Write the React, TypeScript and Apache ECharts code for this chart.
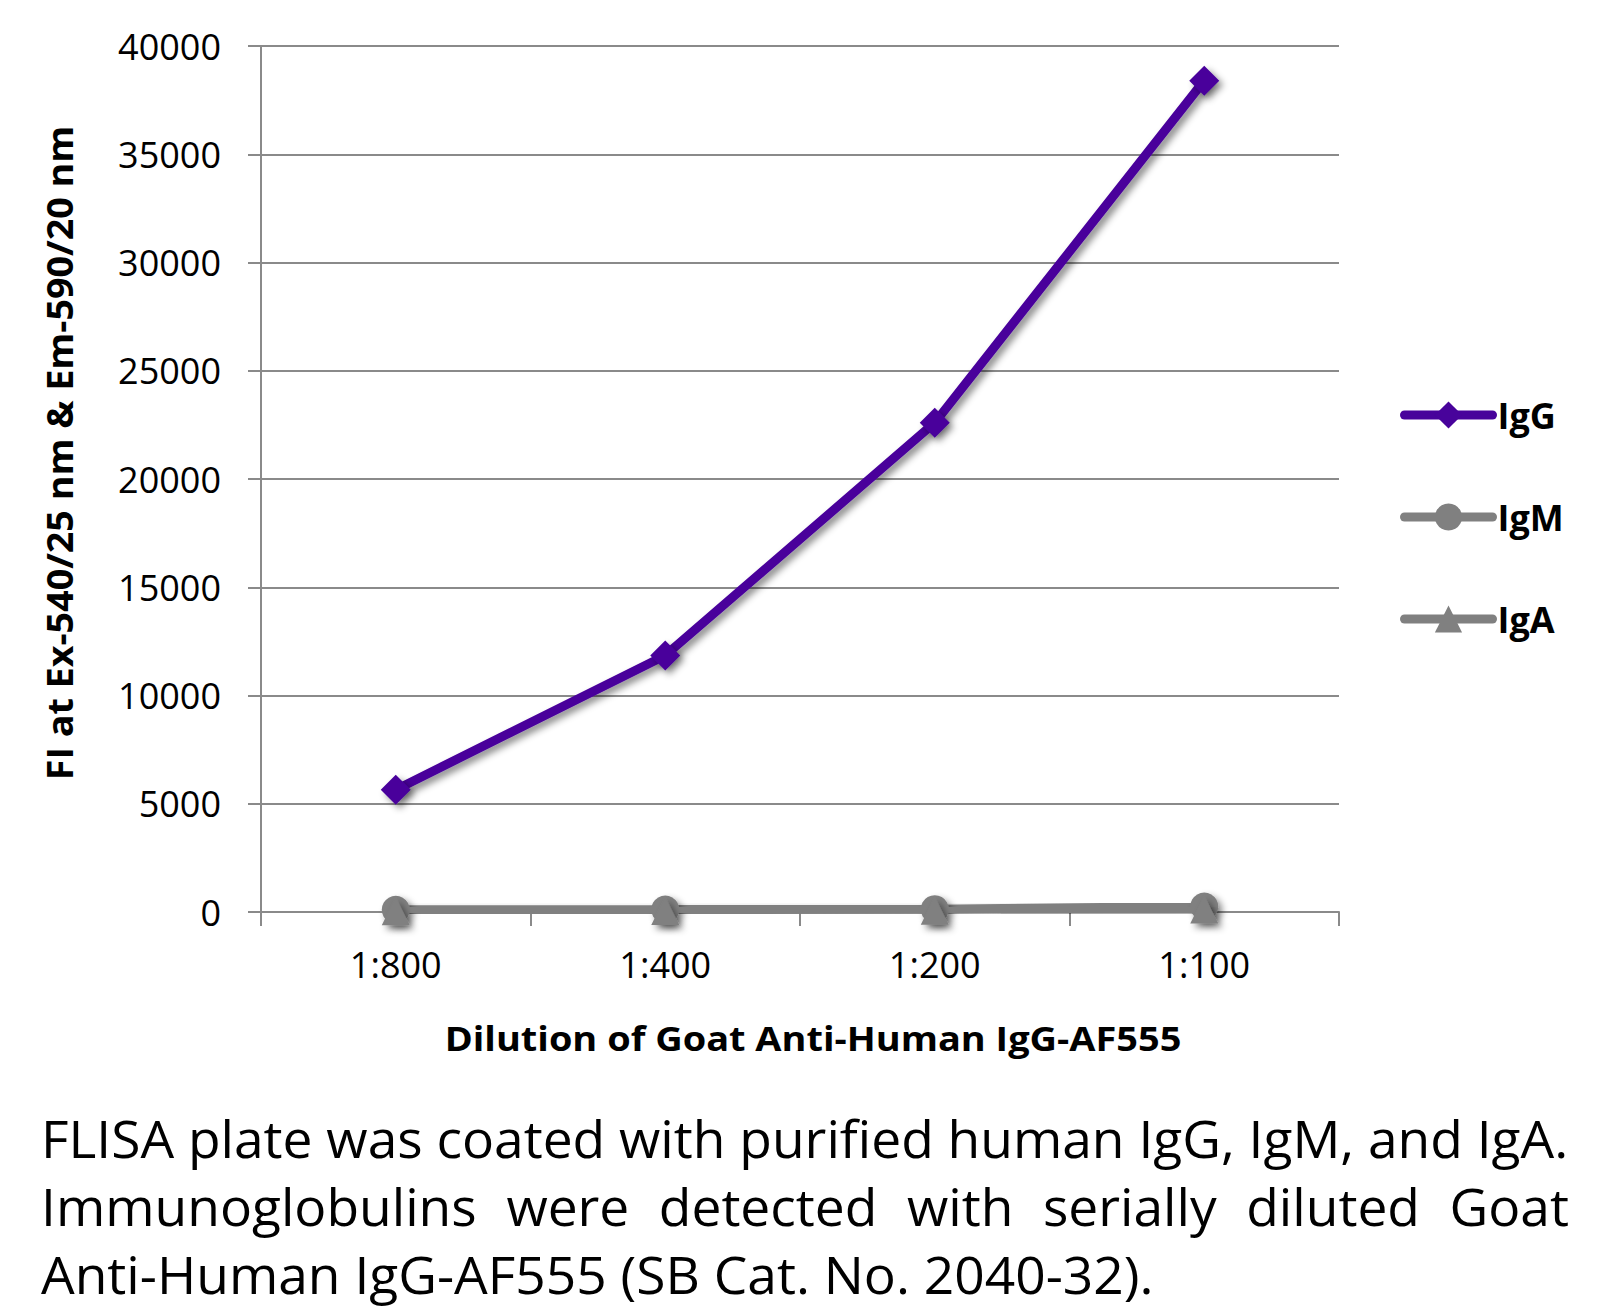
import React, { useEffect, useRef } from "react";
import * as echarts from "echarts";

const categories = ["1:800", "1:400", "1:200", "1:100"];
const igG = [5650, 11850, 22600, 38400];
const igM = [100, 110, 130, 250];
const igA = [40, 50, 60, 120];
const seriesNames = ["IgG", "IgM", "IgA"];
const yAxisTitle = "FI at Ex-540/25 nm & Em-590/20 nm";
const xAxisTitle = "Dilution of Goat Anti-Human IgG-AF555";
const captionLines = [
  "FLISA plate was coated with purified human IgG, IgM, and IgA.",
  "Immunoglobulins were detected with serially diluted Goat",
  "Anti-Human IgG-AF555 (SB Cat. No. 2040-32).",
];

const FONT = '"Open Sans", "Noto Sans", sans-serif';
const PURPLE = "#48039b";
const GRAY = "#808080";
const AXIS = "#8a8a8a";

function measure(text: string, font: string): number {
  const c = document.createElement("canvas").getContext("2d")!;
  c.font = font;
  return c.measureText(text).width;
}

export default function App() {
  const ref = useRef<HTMLDivElement>(null);
  useEffect(() => {
    const chart = echarts.init(ref.current!, null, { renderer: "svg" });

    const yTitleFont = `bold 36px ${FONT}`;
    const xTitleFont = `bold 34px ${FONT}`;
    const capSize = 52;
    const capFont = `${capSize}px ${FONT}`;
    const yTitleScale = 655 / measure(yAxisTitle, yTitleFont);
    const xTitleScale = 737 / measure(xAxisTitle, xTitleFont);
    const capLeft = 41;
    const capWidth = 1528;
    const capScale = capWidth / measure(captionLines[0], capFont);
    const capY = [1138, 1206, 1274];

    const graphics: any[] = [
      {
        type: "text",
        x: 59,
        y: 453,
        rotation: Math.PI / 2,
        scaleX: yTitleScale,
        style: {
          text: yAxisTitle,
          font: yTitleFont,
          fill: "#000",
          align: "center",
          verticalAlign: "middle",
        },
      },
      {
        type: "text",
        x: 813,
        y: 1038,
        scaleX: xTitleScale,
        style: {
          text: xAxisTitle,
          font: xTitleFont,
          fill: "#000",
          align: "center",
          verticalAlign: "middle",
        },
      },
      {
        type: "text",
        x: capLeft,
        y: capY[0],
        scaleX: capScale,
        style: { text: captionLines[0], font: capFont, fill: "#000", align: "left", verticalAlign: "middle" },
      },
      {
        type: "text",
        x: capLeft,
        y: capY[2],
        scaleX: capScale,
        style: { text: captionLines[2], font: capFont, fill: "#000", align: "left", verticalAlign: "middle" },
      },
    ];
    const words = captionLines[1].split(" ");
    const widths = words.map((w) => measure(w, capFont) * capScale);
    const total = widths.reduce((a, b) => a + b, 0);
    const gap = (capWidth - total) / (words.length - 1);
    let cx = capLeft;
    words.forEach((w, i) => {
      graphics.push({
        type: "text",
        x: cx,
        y: capY[1],
        scaleX: capScale,
        style: { text: w, font: capFont, fill: "#000", align: "left", verticalAlign: "middle" },
      });
      cx += widths[i] + gap;
    });

    const shadow = {
      shadowColor: "rgba(0,0,0,0.45)",
      shadowBlur: 7,
      shadowOffsetX: 4,
      shadowOffsetY: 4,
    };

    chart.setOption({
      animation: false,
      backgroundColor: "#fff",
      grid: { left: 261, top: 46, right: 266, bottom: 400, containLabel: false },
      legend: {
        orient: "vertical",
        left: 1395,
        top: 392,
        itemWidth: 88,
        itemHeight: 34,
        itemGap: 66,
        lineStyle: { width: 9, cap: "round" },
        textStyle: { fontFamily: FONT, fontWeight: "bold", fontSize: 36, color: "#000" },
        data: seriesNames,
      },
      xAxis: {
        type: "category",
        data: categories,
        boundaryGap: true,
        axisLine: { lineStyle: { color: AXIS, width: 2 } },
        axisTick: { show: true, length: 14, lineStyle: { color: AXIS, width: 2 } },
        axisLabel: { fontFamily: FONT, fontSize: 36, color: "#000", margin: 34 },
      },
      yAxis: {
        type: "value",
        min: 0,
        max: 40000,
        interval: 5000,
        axisLine: { show: true, lineStyle: { color: AXIS, width: 2 } },
        axisTick: { show: true, length: 13, lineStyle: { color: AXIS, width: 2 } },
        axisLabel: {
          fontFamily: FONT,
          fontSize: 36,
          color: "#000",
          margin: 40,
          formatter: (v: number) => String(v),
        },
        splitLine: { lineStyle: { color: AXIS, width: 2 } },
      },
      graphic: graphics,
      series: [
        {
          name: seriesNames[0],
          type: "line",
          data: igG,
          symbol: "diamond",
          symbolSize: 30,
          lineStyle: { color: PURPLE, width: 9, cap: "round", ...shadow },
          itemStyle: { color: PURPLE, ...shadow },
          z: 5,
        },
        {
          name: seriesNames[1],
          type: "line",
          data: igM,
          symbol: "circle",
          symbolSize: 28,
          lineStyle: { color: GRAY, width: 9, cap: "round", ...shadow },
          itemStyle: { color: GRAY, ...shadow },
          z: 3,
        },
        {
          name: seriesNames[2],
          type: "line",
          data: igA,
          symbol: "triangle",
          symbolSize: 28,
          lineStyle: { color: GRAY, width: 9, cap: "round", ...shadow },
          itemStyle: { color: GRAY, ...shadow },
          z: 4,
        },
      ],
    });
    return () => chart.dispose();
  }, []);
  return (
    <div
      ref={ref}
      style={{ position: "absolute", left: 0, top: 0, width: 1605, height: 1312 }}
    />
  );
}
